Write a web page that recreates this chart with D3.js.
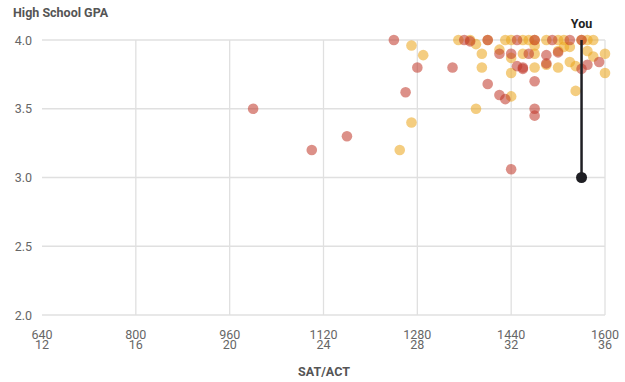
<!DOCTYPE html>
<html><head><meta charset="utf-8">
<script src="https://cdn.jsdelivr.net/npm/d3@7"></script>
<style>body{margin:0;background:#fff;font-family:Roboto,"Noto Sans",sans-serif}</style>
</head><body><svg id="c" width="625" height="382"></svg>
<script>
const satTicks=[640,800,960,1120,1280,1440,1600];
const actTicks=[12,16,20,24,28,32,36];
const gpaTicks=[2.0,2.5,3.0,3.5,4.0];
const rejected=[[1000,3.5],[1100,3.2],[1160,3.3],[1240,4.0],[1260,3.62],[1280,3.8],[1340,3.8],[1360,4.0],[1400,4.0],[1400,3.68],[1420,3.6],[1430,3.57],[1440,3.06],[1420,3.9],[1440,3.9],[1450,4.0],[1450,3.81],[1460,3.79],[1480,3.7],[1480,3.5],[1480,3.45],[1480,4.0],[1470,3.9],[1460,3.8],[1500,3.89],[1500,3.83],[1510,4.0],[1520,3.91],[1540,4.0],[1560,4.0],[1560,3.79],[1570,3.82],[1590,3.84],[1370,3.99]];
const accepted=[[1250,3.2],[1270,3.4],[1270,3.96],[1290,3.89],[1380,3.5],[1550,3.63],[1440,3.59],[1350,4.0],[1370,4.0],[1380,3.97],[1390,3.9],[1390,3.8],[1400,4.0],[1420,3.93],[1430,4.0],[1440,4.0],[1440,3.87],[1440,3.76],[1460,3.9],[1460,4.0],[1470,4.0],[1480,3.9],[1480,3.8],[1480,4.0],[1480,3.96],[1500,4.0],[1500,3.82],[1520,4.0],[1520,3.92],[1520,3.8],[1530,4.0],[1530,3.95],[1540,3.95],[1540,3.84],[1550,3.81],[1560,4.0],[1570,4.0],[1570,3.92],[1580,4.0],[1580,3.88],[1600,3.9],[1600,3.76]];
const you=[1560,3.0];

const svg=d3.select("#c");
const x=d3.scaleLinear().domain([640,1600]).range([42,605]);
const y=d3.scaleLinear().domain([2,4]).range([315,40]);

svg.append("g").selectAll("line").data(gpaTicks).join("line")
 .attr("x1",42).attr("x2",605).attr("y1",d=>y(d)).attr("y2",d=>y(d))
 .attr("stroke","#e0e0e0").attr("stroke-width",1.3);
svg.append("g").selectAll("line").data(satTicks.slice(1)).join("line")
 .attr("y1",40).attr("y2",315).attr("x1",d=>x(d)).attr("x2",d=>x(d))
 .attr("stroke","#e0e0e0").attr("stroke-width",1.3);

svg.append("g").selectAll("text").data(gpaTicks).join("text")
 .attr("x",32).attr("y",d=>y(d)+4.5).attr("text-anchor","end")
 .attr("font-size",12.5).attr("fill","#666").text(d=>d.toFixed(1));

const xl=svg.append("g").selectAll("text").data(satTicks).join("text")
 .attr("text-anchor","middle").attr("font-size",12.5).attr("fill","#666");
xl.append("tspan").attr("x",d=>x(d)).attr("y",339).text(d=>d);
xl.append("tspan").attr("x",d=>x(d)).attr("dy",10).text((d,i)=>actTicks[i]);

svg.append("text").attr("x",13).attr("y",17).attr("font-size",12.5).attr("font-weight","bold")
 .attr("fill","#555").text("High School GPA");
svg.append("text").attr("x",324).attr("y",376).attr("text-anchor","middle").attr("font-size",12.5).attr("font-weight","bold")
 .attr("fill","#555").text("SAT/ACT");

const pts=accepted.map(d=>({d,c:"#eca51d"})).concat(rejected.map(d=>({d,c:"#c0392b"})));
svg.append("g").selectAll("circle").data(pts).join("circle")
 .attr("cx",p=>x(p.d[0])).attr("cy",p=>y(p.d[1])).attr("r",5.3)
 .attr("fill",p=>p.c).attr("fill-opacity",0.56);

svg.append("line").attr("x1",x(you[0])).attr("x2",x(you[0])).attr("y1",y(4)).attr("y2",y(you[1]))
 .attr("stroke","#1f1f24").attr("stroke-width",2.5);
svg.append("circle").attr("cx",x(you[0])).attr("cy",y(you[1])).attr("r",5.5).attr("fill","#1f1f24");
svg.append("text").attr("x",x(you[0])).attr("y",28).attr("text-anchor","middle").attr("font-size",12.5)
 .attr("font-weight","bold").attr("fill","#222").text("You");
</script></body></html>
